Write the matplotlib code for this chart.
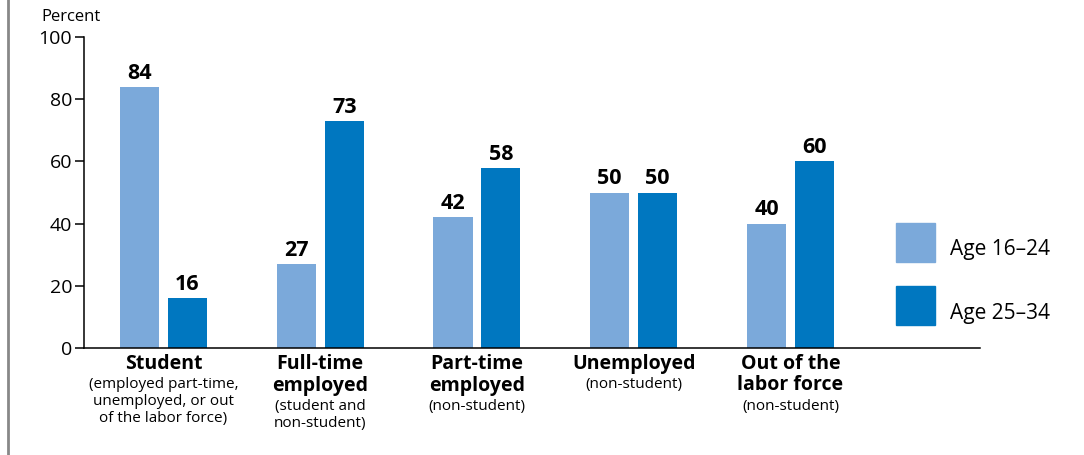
import matplotlib
matplotlib.use("Agg")
import matplotlib.pyplot as plt
import matplotlib.transforms as mtrans
from matplotlib.lines import Line2D
from matplotlib.patches import Rectangle
import numpy as np

plt.rcParams['font.family'] = ['Open Sans', 'DejaVu Sans']

# data
cat_main = ["Student", "Full-time\nemployed", "Part-time\nemployed", "Unemployed", "Out of the\nlabor force"]
cat_sub = ["(employed part-time,\nunemployed, or out\nof the labor force)",
           "(student and\nnon-student)",
           "(non-student)",
           "(non-student)",
           "(non-student)"]
age_16_24 = [84, 27, 42, 50, 40]
age_25_34 = [16, 73, 58, 50, 60]
series_names = ["Age 16\u201324", "Age 25\u201334"]
colors = ["#7BA9DA", "#0077C0"]

W, H = 1084, 455
fig = plt.figure(figsize=(W / 100, H / 100), dpi=100)
ax = fig.add_axes([84 / W, 1 - 348 / H, (980 - 84) / W, (348 - 37) / H])

x = np.arange(len(cat_main))
bw = 0.249
off = 0.153
b1 = ax.bar(x - off, age_16_24, bw, color=colors[0])
b2 = ax.bar(x + off, age_25_34, bw, color=colors[1])

# value labels on top of each bar
for bars, vals in ((b1, age_16_24), (b2, age_25_34)):
    for b, v in zip(bars, vals):
        ax.text(b.get_x() + b.get_width() / 2, v + 1.0, str(v), ha="center", va="bottom",
                fontsize=15.5, fontweight="bold")

ax.set_xlim(-0.507, 5.209)
ax.set_ylim(0, 100)
ax.set_yticks([0, 20, 40, 60, 80, 100])
ax.tick_params(axis="y", direction="out", length=6.5, width=1.1, pad=2, labelsize=14)
ax.tick_params(axis="x", bottom=False, labelbottom=False)
for s in ("top", "right"):
    ax.spines[s].set_visible(False)
for s in ("left", "bottom"):
    ax.spines[s].set_linewidth(1.1)

fig.text(41 / W, 1 - 9 / H, "Percent", ha="left", va="top", fontsize=12)

# category labels under the axis
tr = mtrans.blended_transform_factory(ax.transData, fig.transFigure)
for i, (m, s) in enumerate(zip(cat_main, cat_sub)):
    nm = m.count("\n") + 1
    ax.text(i, 1 - 354 / H, m, transform=tr, ha="center", va="top", fontsize=14,
            fontweight="bold", linespacing=1.1)
    ax.text(i, 1 - (354 + nm * 22 + 1) / H, s, transform=tr, ha="center", va="top",
            fontsize=11, linespacing=1.2)

# legend
for k, (name, c) in enumerate(zip(series_names, colors)):
    y0 = 223 + k * 63
    fig.add_artist(Rectangle((896 / W, 1 - (y0 + 39) / H), 39 / W, 39 / H,
                             transform=fig.transFigure, color=c))
    fig.text(950 / W, 1 - (y0 + 27) / H, name, ha="left", va="center", fontsize=15)

# grey border on the left
fig.add_artist(Line2D([8 / W, 8 / W], [0, 1], transform=fig.transFigure, color="#888888", lw=2))

fig.savefig("out.png", dpi=100)
